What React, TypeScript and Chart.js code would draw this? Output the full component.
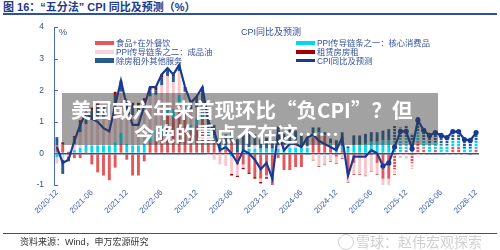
import React, { useEffect, useRef } from 'react';
import { Chart, registerables } from 'chart.js';
Chart.register(...registerables);

const months = [
  '2020-12',
  '2021-01','2021-02','2021-03','2021-04','2021-05','2021-06','2021-07','2021-08','2021-09','2021-10','2021-11','2021-12',
  '2022-01','2022-02','2022-03','2022-04','2022-05','2022-06','2022-07','2022-08','2022-09','2022-10','2022-11','2022-12',
  '2023-01','2023-02','2023-03','2023-04','2023-05','2023-06','2023-07','2023-08','2023-09','2023-10','2023-11','2023-12',
  '2024-01','2024-02','2024-03','2024-04','2024-05','2024-06','2024-07','2024-08','2024-09','2024-10','2024-11','2024-12',
  '2025-01','2025-02','2025-03','2025-04','2025-05','2025-06','2025-07','2025-08','2025-09','2025-10','2025-11','2025-12',
  '2026-01','2026-02','2026-03','2026-04','2026-05','2026-06','2026-07','2026-08','2026-09','2026-10','2026-11','2026-12',
];

const cpiYoY = [
  0.2,-0.3,-0.2,0.4,0.9,1.3,1.1,1.0,0.8,0.7,1.5,2.3,
  1.5,0.9,0.9,1.5,2.1,2.1,2.5,2.7,2.5,2.8,2.1,1.6,
  1.8,2.1,1.0,0.7,0.1,0.2,0.0,-0.3,0.1,0.0,-0.2,-0.5,
  -0.3,-0.8,0.7,0.1,0.3,0.3,0.2,0.5,0.6,0.4,0.3,0.2,
  0.1,0.5,-0.7,-0.1,-0.1,-0.1,0.1,0.0,-0.4,-0.3,0.2,0.7,
  0.7,0.15,1.05,0.73,0.57,0.66,0.57,0.5,0.69,0.69,0.44,0.41,0.66,
];

const foodDining = [
  0.25,0.3,-0.05,-0.15,-0.15,0.05,-0.35,-0.6,-0.7,-0.85,-0.45,0.3,
  -0.2,-0.7,-0.7,-0.25,0.35,0.45,0.55,1.2,1.15,1.6,1.3,0.7,
  0.9,1.15,0.5,0.45,0.1,0.2,0.4,-0.35,-0.35,-0.6,-0.75,-0.8,
  -0.7,-1.1,-0.15,-0.5,-0.5,-0.4,-0.4,0.0,0.5,0.6,0.55,0.2,
  -0.1,0.1,-0.65,-0.3,-0.05,-0.05,-0.05,-0.3,-0.8,-0.8,-0.5,0.05,
  0.1,-0.3,0.35,0.15,0.05,0.12,0.05,0.05,0.2,0.2,0.0,-0.05,0.15,
];

const refinedOil = [
  -0.2,-0.15,-0.05,0.2,0.5,0.65,0.8,0.9,0.85,0.95,1.2,1.3,
  1.0,0.95,1.0,1.15,1.15,1.1,1.3,1.0,0.85,0.75,0.45,0.5,
  0.35,0.1,-0.05,-0.2,-0.35,-0.4,-0.55,-0.35,-0.1,0.05,0.1,-0.1,
  -0.05,-0.05,0.1,0.15,0.2,0.15,0.05,0.05,-0.2,-0.4,-0.35,-0.25,
  -0.2,-0.15,-0.25,-0.35,-0.6,-0.65,-0.5,-0.35,-0.3,-0.25,-0.15,-0.1,
  -0.15,-0.15,-0.1,-0.05,-0.02,0.0,0.0,-0.05,-0.05,-0.05,-0.05,-0.03,-0.03,
];

const otherServices = [
  0.25,-0.45,-0.15,0.2,0.3,0.3,0.3,0.35,0.35,0.3,0.3,0.25,
  0.3,0.3,0.25,0.2,0.2,0.15,0.25,0.2,0.2,0.15,0.1,0.15,
  0.3,0.55,0.35,0.3,0.3,0.35,0.3,0.45,0.55,0.45,0.35,0.3,
  0.35,0.25,0.6,0.35,0.45,0.4,0.4,0.3,0.2,0.15,0.1,0.15,
  0.3,0.45,0.05,0.3,0.3,0.32,0.3,0.3,0.3,0.35,0.45,0.35,
  0.35,0.2,0.45,0.35,0.3,0.3,0.3,0.3,0.3,0.3,0.3,0.3,0.3,
];

const coreGoods = [
  -0.12,-0.05,0.0,0.1,0.17,0.22,0.25,0.25,0.25,0.25,0.35,0.35,
  0.3,0.25,0.25,0.3,0.3,0.3,0.3,0.25,0.25,0.25,0.2,0.2,
  0.2,0.25,0.18,0.13,0.05,0.05,-0.1,0.0,0.05,0.15,0.15,0.15,
  0.15,0.15,0.15,0.12,0.17,0.17,0.17,0.17,0.12,0.07,0.02,0.12,
  0.12,0.12,0.17,0.27,0.27,0.3,0.37,0.37,0.42,0.42,0.42,0.42,
  0.42,0.42,0.35,0.28,0.24,0.24,0.22,0.2,0.22,0.22,0.17,0.17,0.22,
];

const rent = [
  0.02,0.05,0.05,0.05,0.08,0.08,0.1,0.1,0.05,0.05,0.1,0.1,
  0.1,0.1,0.1,0.1,0.1,0.1,0.1,0.05,0.05,0.05,0.05,0.05,
  0.05,0.05,0.02,0.02,0.0,0.0,-0.05,-0.05,-0.05,-0.05,-0.05,-0.05,
  -0.05,-0.05,0.0,-0.02,-0.02,-0.02,-0.02,-0.02,-0.02,-0.02,-0.02,-0.02,
  -0.02,-0.02,-0.02,-0.02,-0.02,-0.02,-0.02,-0.02,-0.02,-0.02,-0.02,-0.02,
  -0.02,-0.02,0.0,0.0,0.0,0.0,0.0,0.0,0.02,0.02,0.02,0.02,0.02,
];

const yTicks = [-1, 0, 1, 2, 3, 4];
const FORECAST_BAR_START = 58;
const MARKER_START = 56;

const C_FOOD = '#E5575A';
const C_OIL = '#F7C6CA';
const C_SERV = '#2B5B8C';
const C_CORE = '#00D8F0';
const C_RENT = '#A00000';
const C_CPI = '#173A98';
const C_TEXT = '#2F4E9E';
const FONT = '"Liberation Sans", "Noto Sans CJK SC", sans-serif';

export default function App() {
  const ref = useRef<HTMLCanvasElement>(null);

  useEffect(() => {
    const canvas = ref.current!;
    const mkPattern = (color: string) => {
      const c = document.createElement('canvas');
      c.width = 4; c.height = 3;
      const g = c.getContext('2d')!;
      g.fillStyle = color; g.fillRect(0, 0, 4, 3);
      g.fillStyle = 'rgba(255,255,255,0.75)'; g.fillRect(0, 2, 4, 1);
      return g.createPattern(c, 'repeat')!;
    };
    const bar = (label: string, data: number[], color: string) => {
      const pat = mkPattern(color);
      return {
        type: 'bar' as const,
        label,
        data,
        backgroundColor: (ctx: any) => (ctx.dataIndex >= FORECAST_BAR_START ? pat : color),
        barPercentage: 0.5,
        categoryPercentage: 1,
        order: 1,
        stack: 's',
      };
    };
    const inwardTicks = {
      id: 'inwardTicks',
      afterDraw(chart: any) {
        const y = chart.scales.y;
        const ctx = chart.ctx;
        ctx.save();
        ctx.strokeStyle = '#4A6BB5';
        ctx.lineWidth = 1;
        yTicks.forEach((v) => {
          const py = Math.round(y.getPixelForValue(v)) + 0.5;
          ctx.beginPath();
          ctx.moveTo(y.right, py);
          ctx.lineTo(y.right + 4, py);
          ctx.stroke();
        });
        ctx.restore();
      },
    };
    const chart = new Chart(canvas, {
      type: 'bar',
      data: {
        labels: months,
        datasets: [
          {
            type: 'line' as const,
            label: 'CPI同比及预测',
            data: cpiYoY,
            borderColor: C_CPI,
            backgroundColor: C_CPI,
            borderWidth: 2.2,
            pointRadius: (ctx: any) => (ctx.dataIndex >= MARKER_START ? 2.6 : 0),
            pointBackgroundColor: C_CPI,
            pointBorderWidth: 0,
            tension: 0,
            order: 0,
            stack: 'line',
          } as any,
          bar('食品+在外餐饮', foodDining, C_FOOD),
          bar('PPI传导链条之一：核心消费品', coreGoods, C_CORE),
          bar('PPI传导链条之二：成品油', refinedOil, C_OIL),
          bar('除房租外其他服务', otherServices, C_SERV),
          bar('租赁房房租', rent, C_RENT),
        ],
      },
      options: {
        responsive: false,
        animation: false,
        layout: { padding: { left: 34, right: 21, top: 27, bottom: 0 } },
        plugins: { legend: { display: false }, tooltip: { enabled: false } },
        scales: {
          x: {
            stacked: true,
            grid: { display: false, drawTicks: false },
            border: { display: false },
            ticks: {
              autoSkip: false,
              maxRotation: 45,
              minRotation: 45,
              padding: 3,
              color: '#3A5CB0',
              font: { size: 8, family: FONT },
              callback: (_v: any, i: number) => (i % 6 === 0 ? months[i] : ''),
            },
            afterFit: (s: any) => { s.height = 65; },
          },
          y: {
            stacked: true,
            min: -1,
            max: 4,
            afterBuildTicks: (s: any) => { s.ticks = yTicks.map((v) => ({ value: v })); },
            ticks: { color: C_TEXT, font: { size: 8.5, family: FONT }, padding: 10 },
            grid: {
              drawTicks: false,
              color: (c: any) => (c.tick && c.tick.value === 0 ? '#2F52A0' : 'rgba(0,0,0,0)'),
              lineWidth: 1.5,
            },
            border: { display: true, color: '#4A6BB5', width: 1 },
            afterFit: (s: any) => { s.width = 20; },
          },
        },
      } as any,
      plugins: [inwardTicks],
    });
    return () => chart.destroy();
  }, []);

  const abs = (l: number, t: number, extra: any = {}) => ({ position: 'absolute' as const, left: l, top: t, ...extra });
  const legendText = { fontFamily: FONT, fontSize: 8.3, color: C_TEXT, whiteSpace: 'nowrap' as const, lineHeight: '10px' };
  const legendItem = (x: number, y: number, color: string, text: string, line = false) => (
    <React.Fragment key={text}>
      <div style={abs(x, line ? y - 1.2 : y - 2.2, { width: 19, height: line ? 2.4 : 4.5, background: color })} />
      <div style={abs(x + 21, y - 5, legendText)}>{text}</div>
    </React.Fragment>
  );
  const boxText = { fontFamily: '"Noto Sans CJK SC", sans-serif', fontWeight: 'bold', fontSize: 20.5, lineHeight: '24px', color: '#fff', whiteSpace: 'nowrap' as const };

  return (
    <div style={{ position: 'fixed', left: 0, top: 0, width: 500, height: 250, background: '#fff', overflow: 'hidden' }}>
      <div style={abs(3, 1, { fontFamily: FONT, fontWeight: 'bold', fontSize: 11, color: '#1E3A8A', whiteSpace: 'nowrap', lineHeight: '12px' })}>
        图 16：“五分法” CPI 同比及预测（%）
      </div>
      <div style={abs(3, 13, { width: 494, height: 1.5, background: '#2F52A0' })} />
      <canvas ref={ref} width={500} height={250} style={{ position: 'absolute', left: 0, top: 0, width: 500, height: 250 }} />
      <div style={abs(59, 27, { ...legendText, fontSize: 9 })}>%</div>
      <div style={abs(241, 27, { ...legendText, fontSize: 9 })}>CPI同比及预测</div>
      {legendItem(95, 43, C_FOOD, '食品+在外餐饮')}
      {legendItem(95, 51.7, '#F9D3D5', 'PPI传导链条之二：成品油')}
      {legendItem(95, 60.5, C_SERV, '除房租外其他服务')}
      {legendItem(296, 43, C_CORE, 'PPI传导链条之一：核心消费品')}
      {legendItem(296, 51.7, C_RENT, '租赁房房租')}
      {legendItem(296, 60.5, C_CPI, 'CPI同比及预测', true)}
      <div style={abs(62, 93, { width: 376, height: 52, background: 'rgba(60,60,60,0.48)' })} />
      <div style={abs(71, 97, boxText)}>美国或六年来首现环比“负CPI”？但</div>
      <div style={abs(134, 121, boxText)}>今晚的重点不在这……</div>
      <div style={abs(3, 232.5, { width: 494, height: 1.5, background: '#2F52A0' })} />
      <div style={abs(20, 237, { fontFamily: FONT, fontSize: 9, color: '#333', whiteSpace: 'nowrap', lineHeight: '11px' })}>
        资料来源：Wind，申万宏源研究
      </div>
      <div style={abs(338, 234, { width: 14, height: 14, borderRadius: '50%', border: '1.5px solid #cfcfcf' })} />
      <div style={abs(356, 233, { fontFamily: '"Noto Sans CJK SC", sans-serif', fontSize: 14, color: '#cfcfcf', whiteSpace: 'nowrap', lineHeight: '17px' })}>
        雪球：赵伟宏观探索
      </div>
    </div>
  );
}
